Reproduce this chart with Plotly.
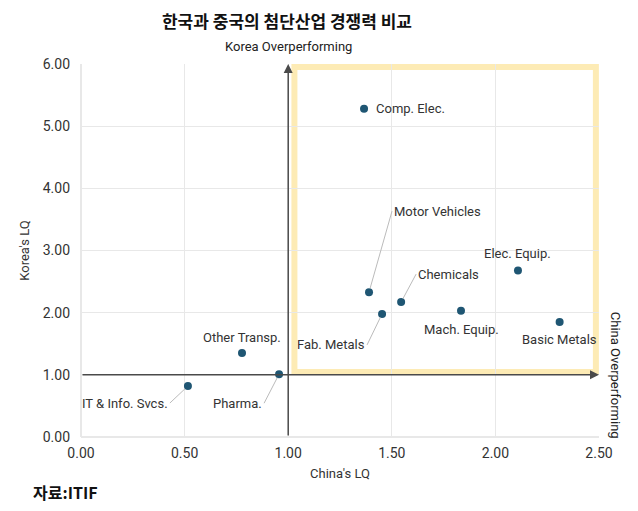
import plotly.graph_objects as go

industries = ['Comp. Elec.', 'Motor Vehicles', 'Chemicals', 'Fab. Metals', 'Mach. Equip.',
              'Elec. Equip.', 'Basic Metals', 'Other Transp.', 'Pharma.', 'IT & Info. Svcs.']
china_lq = [1.366, 1.39, 1.545, 1.453, 1.834, 2.109, 2.31, 0.777, 0.956, 0.516]
korea_lq = [5.28, 2.33, 2.17, 1.98, 2.03, 2.68, 1.85, 1.35, 1.01, 0.82]

font = 'Roboto, sans-serif'
dot = '#1f5673'

fig = go.Figure()

# 사분면 강조 박스
fig.add_shape(type='rect', x0=1.03, x1=2.485, y0=1.045, y1=5.95,
              line=dict(color='#fdebb5', width=6), layer='below')

fig.add_trace(go.Scatter(
    x=china_lq, y=korea_lq, mode='markers',
    marker=dict(color=dot, size=8),
    hoverinfo='text', text=industries, showlegend=False,
))

# 라벨 위치 (픽셀 오프셋)
label_pos = {
    'Comp. Elec.': dict(xanchor='left', xshift=10, yshift=0),
    'Elec. Equip.': dict(xanchor='center', yshift=17),
    'Mach. Equip.': dict(xanchor='center', yshift=-19),
    'Basic Metals': dict(xanchor='center', yshift=-18),
    'Other Transp.': dict(xanchor='center', yshift=16),
}
leaders = {
    'Motor Vehicles': dict(xanchor='left', ax=23, ay=-81),
    'Chemicals': dict(xanchor='left', ax=15, ay=-28),
    'Fab. Metals': dict(xanchor='right', ax=-15, ay=31),
    'Pharma.': dict(xanchor='right', ax=-15, ay=29),
    'IT & Info. Svcs.': dict(xanchor='right', ax=-18, ay=17),
}

for name, cx, ky in zip(industries, china_lq, korea_lq):
    if name in label_pos:
        fig.add_annotation(x=cx, y=ky, text=name, showarrow=False,
                           font=dict(family=font, size=13, color='#333'), **label_pos[name])
    else:
        fig.add_annotation(x=cx, y=ky, text=name, showarrow=True, arrowhead=0,
                           arrowwidth=1, arrowcolor='#bbbbbb', standoff=4,
                           yanchor='middle',
                           font=dict(family=font, size=13, color='#333'), **leaders[name])

# 기준축 (LQ = 1)
fig.add_annotation(x=1, y=6, ax=1, ay=0, xref='x', yref='y', axref='x', ayref='y',
                   text='', showarrow=True, arrowhead=2, arrowsize=1.2,
                   arrowwidth=1.5, arrowcolor='#4a4a4a')
fig.add_annotation(x=2.5, y=1, ax=0, ay=1, xref='x', yref='y', axref='x', ayref='y',
                   text='', showarrow=True, arrowhead=2, arrowsize=1.2,
                   arrowwidth=1.5, arrowcolor='#4a4a4a')

fig.add_annotation(x=1, y=6, yshift=18, text='Korea Overperforming', showarrow=False,
                   font=dict(family=font, size=13, color='#222'))
fig.add_annotation(x=2.5, y=1, xref='x', yref='y', xshift=16, xanchor='center',
                   text='China Overperforming', textangle=90, showarrow=False,
                   font=dict(family=font, size=13, color='#222'))

fig.add_annotation(x=-0.097, y=-0.147, xref='paper', yref='paper', xanchor='left',
                   yanchor='middle', text='<b>자료:ITIF</b>', showarrow=False,
                   font=dict(family='Noto Sans CJK KR', size=16, color='#111'))

# 페이지 기본 여백(8px)을 감안한 크기
fig.update_layout(
    width=630, height=503,
    margin=dict(l=73, r=39, t=56, b=74),
    paper_bgcolor='white', plot_bgcolor='white',
    title=dict(text='<b>한국과 중국의 첨단산업 경쟁력 비교</b>', x=279 / 630, xanchor='center',
               y=1 - 14 / 503, yanchor='middle',
               font=dict(family='Noto Sans CJK KR', size=17, color='#111')),
    xaxis=dict(range=[0, 2.5], dtick=0.5, tickformat='.2f', showgrid=True,
               gridcolor='#e8e8e8', zeroline=True, zerolinecolor='#e8e8e8',
               ticklabelstandoff=6,
               tickfont=dict(family=font, size=14, color='#333'),
               title=dict(text="China's LQ", standoff=8,
                          font=dict(family=font, size=13, color='#333'))),
    yaxis=dict(range=[0, 6], dtick=1, tickformat='.2f', showgrid=True,
               gridcolor='#e8e8e8', zeroline=True, zerolinecolor='#e8e8e8',
               ticklabelstandoff=10,
               tickfont=dict(family=font, size=14, color='#333'),
               title=dict(text="Korea's LQ", standoff=10,
                          font=dict(family=font, size=13, color='#333'))),
)

fig.write_html('out.html')
